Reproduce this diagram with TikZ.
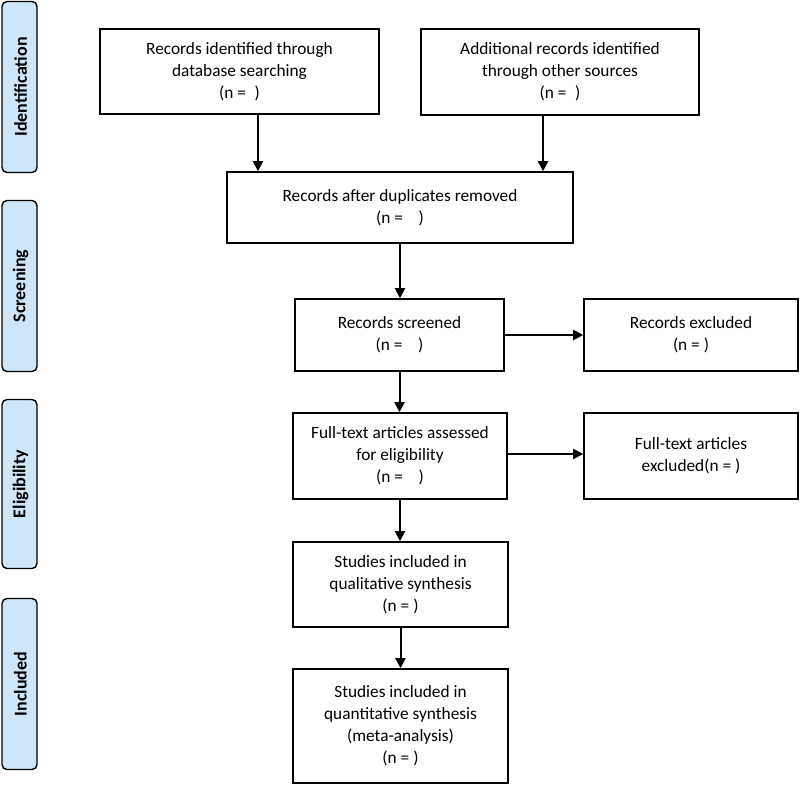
\documentclass[tikz,border=0pt]{standalone}
\usepackage{fontspec}
\setmainfont{Carlito}
\usetikzlibrary{arrows.meta}
\definecolor{barblue}{RGB}{206,230,248}
\tikzset{
  box/.style={draw=black, line width=1.6pt, fill=white, align=center, inner sep=2pt,
    font=\fontsize{17.3}{22}\selectfont},
  bar/.style={draw=black, line width=1.4pt, fill=barblue, rounded corners=5pt,
    minimum width=35pt, minimum height=171pt, inner sep=0pt},
  barlabel/.style={rotate=90, font=\fontsize{18}{20}\selectfont\bfseries},
  arr/.style={line width=2pt, -{Triangle[length=10pt,width=10pt]}}
}
\begin{document}
\begin{tikzpicture}[x=1pt,y=-1pt]
\useasboundingbox (0,0) rectangle (800,785);
% side bars
\node[bar] (idb) at (19.5,87) {};
\node[barlabel] (idl) at ([xshift=1pt]idb.center) {Identification};
\node[bar] (scb) at (19.5,286) {};
\node[barlabel] (scl) at ([xshift=1pt]scb.center) {Screening};
\node[bar, minimum height=169pt] (elb) at (19.5,484) {};
\node[barlabel] (ell) at ([xshift=1pt]elb.center) {Eligibility};
\node[bar] (inb) at (19.5,684) {};
\node[barlabel] (inl) at ([xshift=1pt]inb.center) {Included};
% boxes
\node[box, minimum width=279pt, minimum height=85pt] (b1) at (239.5,71.5)
  {Records identified through\\database searching\\(n =\hspace{0.5em})};
\node[box, minimum width=278pt, minimum height=86pt] (b2) at (560,72)
  {Additional records identified\\through other sources\\(n =\hspace{0.5em})};
\node[box, minimum width=346pt, minimum height=71pt] (b3) at (400,207.5)
  {Records after duplicates removed\\(n =\hspace{0.9em})};
\node[box, minimum width=209pt, minimum height=72pt] (b4) at (399.5,335)
  {Records screened\\(n =\hspace{0.9em})};
\node[box, minimum width=214pt, minimum height=72pt] (b5) at (691,335)
  {Records excluded\\(n = )};
\node[box, minimum width=214pt, minimum height=86pt] (b6) at (400,456)
  {Full-text articles assessed\\for eligibility\\(n =\hspace{0.9em})};
\node[box, minimum width=214pt, minimum height=86pt] (b7) at (691,456)
  {Full-text articles\\excluded(n = )};
\node[box, minimum width=215pt, minimum height=85pt] (b8) at (400.5,584.5)
  {Studies included in\\qualitative synthesis\\(n = )};
\node[box, minimum width=215pt, minimum height=114pt] (b9) at (400.5,726)
  {Studies included in\\quantitative synthesis\\(meta-analysis)\\(n = )};
% connectors
\draw[arr] ([xshift=18.5pt]b1.south) -- ([xshift=18.5pt]b1.south |- b3.north);
\draw[arr] ([xshift=-17pt]b2.south) -- ([xshift=-17pt]b2.south |- b3.north);
\draw[arr] (b3.south) -- (b3.south |- b4.north);
\draw[arr] (b4.east) -- (b5.west);
\draw[arr] (b4.south) -- (b4.south |- b6.north);
\draw[arr] ([yshift=2pt]b6.east) -- ([yshift=2pt]b6.east -| b7.west);
\draw[arr] (b6.south) -- (b6.south |- b8.north);
\draw[arr] (b8.south) -- (b8.south |- b9.north);
\end{tikzpicture}
\end{document}
